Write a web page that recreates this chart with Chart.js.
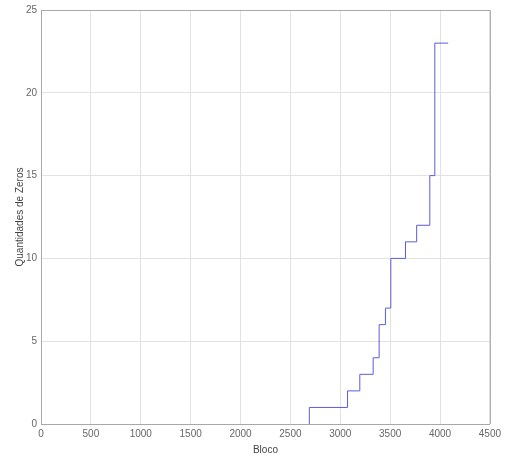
<!DOCTYPE html>
<html>
<head>
<meta charset="utf-8">
<script src="https://cdn.jsdelivr.net/npm/chart.js@4/dist/chart.umd.min.js"></script>
<style>
  html, body { margin: 0; padding: 0; background: #fff; }
  #wrap { width: 505px; height: 456px; }
</style>
</head>
<body>
<div id="wrap"><canvas id="zerosChart" width="505" height="456"></canvas></div>
<script>
// block where the count steps up, and count of zeros from there on
const blocks = [2690, 2690, 3073, 3196, 3330, 3390, 3453, 3507, 3654, 3766, 3898, 3948, 4082];
const zeros  = [0,    1,    2,    3,    4,    6,    7,    10,   11,   12,   15,   23,   23];

const xTicks = [0, 500, 1000, 1500, 2000, 2500, 3000, 3500, 4000, 4500];
const yTicks = [0, 5, 10, 15, 20, 25];

const points = blocks.map((b, i) => ({ x: b, y: zeros[i] }));

// closes the box on top and right like the original plot
const boxPlugin = {
  id: "box",
  afterDraw(chart) {
    const { ctx, chartArea: a } = chart;
    ctx.save();
    ctx.strokeStyle = "#a8a8a8";
    ctx.lineWidth = 1;
    ctx.beginPath();
    ctx.moveTo(a.left, a.top + 0.5);
    ctx.lineTo(a.right + 0.5, a.top + 0.5);
    ctx.lineTo(a.right + 0.5, a.bottom);
    ctx.stroke();
    ctx.restore();
  }
};

const tickFont = { family: "Liberation Sans, Arial, sans-serif", size: 10 };

new Chart(document.getElementById("zerosChart"), {
  type: "line",
  data: {
    datasets: [{
      data: points,
      stepped: "before",
      borderColor: "#5c5cdc",
      borderWidth: 1,
      pointRadius: 0,
      fill: false
    }]
  },
  options: {
    responsive: false,
    animation: false,
    layout: { padding: { top: 10, right: 15, left: 0, bottom: 0 } },
    plugins: { legend: { display: false }, tooltip: { enabled: false } },
    scales: {
      x: {
        type: "linear",
        min: 0,
        max: 4500,
        afterBuildTicks: s => { s.ticks = xTicks.map(v => ({ value: v })); },
        afterFit: s => { s.height = 32; },
        ticks: { color: "#666", font: tickFont, padding: 4, maxRotation: 0, callback: v => String(v) },
        grid: { color: "#e2e2e2", drawTicks: false },
        border: { color: "#a8a8a8" },
        title: { display: true, text: "Bloco", color: "#444", font: tickFont, padding: { top: 0, bottom: 0 } }
      },
      y: {
        type: "linear",
        min: 0,
        max: 25,
        afterBuildTicks: s => { s.ticks = yTicks.map(v => ({ value: v })); },
        afterFit: s => { s.width = 41; },
        ticks: { color: "#666", font: tickFont, padding: 4, callback: v => String(v) },
        grid: { color: "#e2e2e2", drawTicks: false },
        border: { color: "#a8a8a8" },
        title: { display: true, text: "Quantidades de Zeros", color: "#444", font: tickFont, padding: { top: 14, bottom: 0 } }
      }
    }
  },
  plugins: [boxPlugin]
});
</script>
</body>
</html>
